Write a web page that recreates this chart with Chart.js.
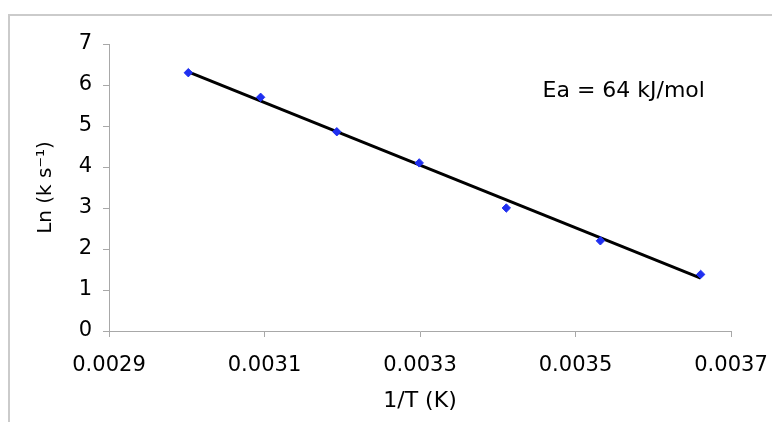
<!DOCTYPE html>
<html>
<head>
<meta charset="utf-8">
<script src="https://cdn.jsdelivr.net/npm/chart.js@4"></script>
<style>
  html, body { margin: 0; padding: 0; background: #fff; }
  #wrap { position: relative; width: 772px; height: 422px; overflow: hidden; }
  #frame { position: absolute; left: 8px; top: 14px; width: 800px; height: 500px; border: 2px solid #cbcbcb; box-sizing: border-box; }
  #c { position: absolute; left: 0; top: 0; }
</style>
</head>
<body>
<div id="wrap">
  <div id="frame"></div>
  <canvas id="c" width="772" height="422"></canvas>
</div>
<script>
// ---- data ----
const invT = [0.003002, 0.003095, 0.003193, 0.003299, 0.003411, 0.003532, 0.003661];
const lnK  = [6.30, 5.70, 4.86, 4.10, 3.00, 2.20, 1.38];
const trendX = [0.003002, 0.003661];
const trendY = [6.32, 1.29];
const xTicks = [0.0029, 0.0031, 0.0033, 0.0035, 0.0037];
const yTicks = [0, 1, 2, 3, 4, 5, 6, 7];
const xTitle = '1/T (K)';
const yTitle = 'Ln (k s\u207B\u00B9)';
const note = 'Ea = 64 kJ/mol';

const FONT = "'DejaVu Sans', Verdana, sans-serif";
Chart.defaults.font.family = FONT;
Chart.defaults.font.size = 21;
Chart.defaults.color = '#000';

const axisColor = '#a8a8a8';

const notePlugin = {
  id: 'note',
  afterDatasetsDraw(chart) {
    const ctx = chart.ctx;
    ctx.save();
    ctx.font = '22px ' + FONT;
    ctx.fillStyle = '#000';
    ctx.textAlign = 'left';
    ctx.textBaseline = 'alphabetic';
    ctx.fillText(note, 542.5, 96.5);
    ctx.restore();
  }
};

new Chart(document.getElementById('c'), {
  type: 'scatter',
  data: {
    datasets: [
      {
        label: 'data',
        data: invT.map((x, i) => ({ x: x, y: lnK[i] })),
        pointStyle: 'rectRot',
        pointRadius: 4.2,
        pointBackgroundColor: '#1f2ff0',
        pointBorderColor: '#1f2ff0',
        pointBorderWidth: 1,
        showLine: false
      },
      {
        label: 'fit',
        data: trendX.map((x, i) => ({ x: x, y: trendY[i] })),
        showLine: true,
        borderColor: '#000',
        borderWidth: 3,
        pointRadius: 0,
        fill: false
      }
    ]
  },
  options: {
    responsive: false,
    animation: false,
    events: [],
    layout: { padding: 0 },
    plugins: { legend: { display: false }, tooltip: { enabled: false } },
    scales: {
      x: {
        type: 'linear',
        min: xTicks[0],
        max: xTicks[xTicks.length - 1],
        afterBuildTicks(scale) { scale.ticks = xTicks.map(v => ({ value: v })); },
        afterFit(scale) { scale.height = 91; scale.paddingLeft = 0; scale.paddingRight = 41; },
        ticks: { callback: v => Number(v).toFixed(4), padding: 16, maxRotation: 0, autoSkip: false, font: { size: 21 } },
        grid: { drawOnChartArea: false, drawTicks: true, tickLength: 6, color: axisColor, lineWidth: 1 },
        border: { display: true, color: axisColor, width: 1 },
        title: { display: true, text: xTitle, padding: { top: 0, bottom: 8 }, font: { size: 22 } }
      },
      y: {
        type: 'linear',
        min: yTicks[0],
        max: yTicks[yTicks.length - 1],
        afterBuildTicks(scale) { scale.ticks = yTicks.map(v => ({ value: v })); },
        afterFit(scale) { scale.width = 109; scale.paddingTop = 44; scale.paddingBottom = 0; },
        ticks: { padding: 11, autoSkip: false, font: { size: 21 } },
        grid: { drawOnChartArea: false, drawTicks: true, tickLength: 6, color: axisColor, lineWidth: 1 },
        border: { display: true, color: axisColor, width: 1 },
        title: { display: true, text: yTitle, padding: { top: 34, bottom: 0 }, font: { size: 20 } }
      }
    }
  },
  plugins: [notePlugin]
});
</script>
</body>
</html>
